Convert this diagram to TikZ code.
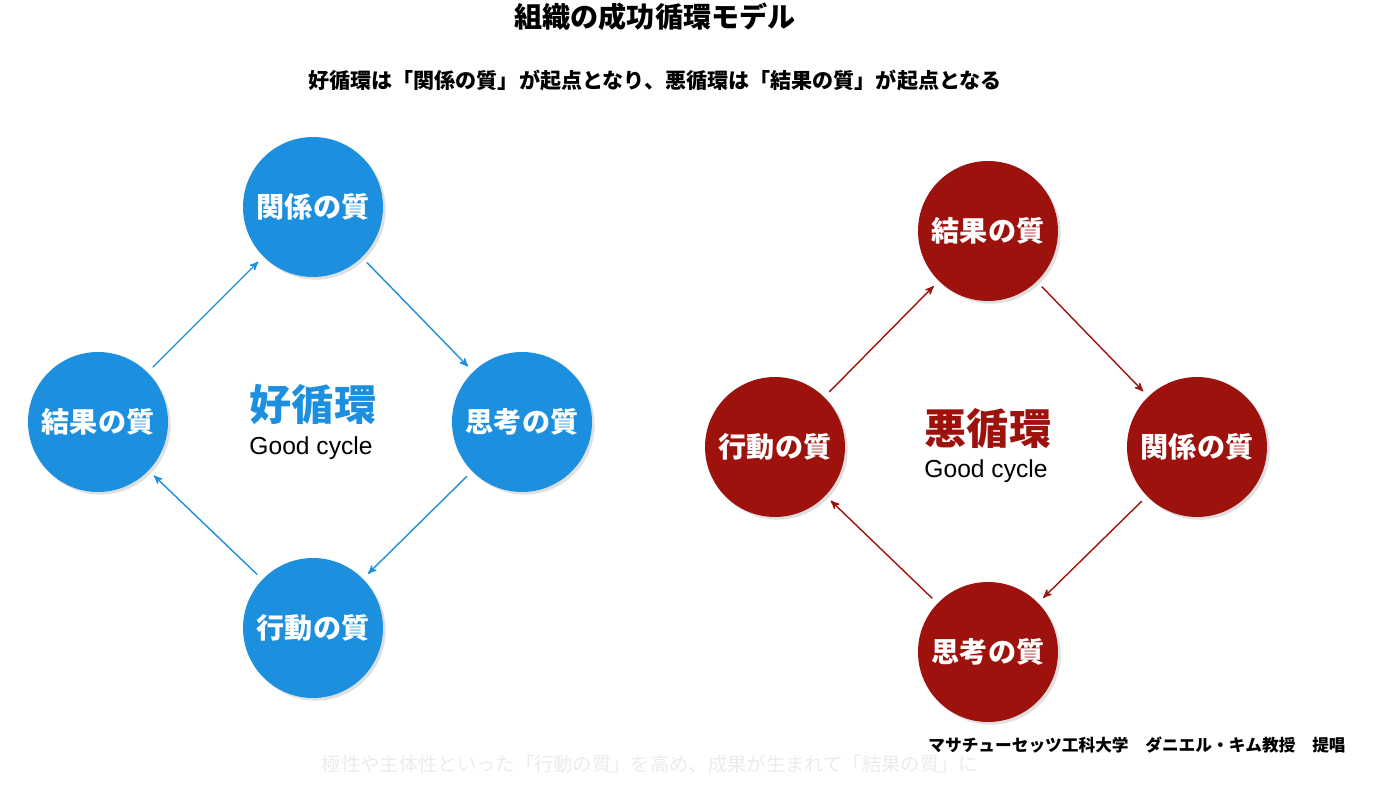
\documentclass[tikz,border=0pt]{standalone}
\usepackage{fontspec}
\setmainfont{Noto Sans CJK JP}
\newfontfamily\latin{Liberation Sans}
\usetikzlibrary{arrows,shadows}
\definecolor{goodblue}{RGB}{28,143,222}
\definecolor{badred}{RGB}{158,18,14}
\tikzset{
	%Define standard arrow tip
	>=stealth',
	% Define style for circles
	kreis/.style={
		circle,
		minimum size=2.8cm,
		inner sep=0pt,
		text=white,
		font=\bfseries\fontsize{16}{16}\selectfont,
		drop shadow={opacity=0.25,shadow xshift=1.5pt,shadow yshift=-1.5pt}},
	% Define arrow style
	pil/.style={
		->,
		thick,
		shorten <=4pt,
		shorten >=4pt,}
}
\begin{document}
\begin{tikzpicture}[x=0.02cm,y=-0.02cm]
	\useasboundingbox (0,0) rectangle (1397,790);
	
	\node[font=\bfseries\fontsize{16}{16}\selectfont] (title) at (655,17) {組織の成功循環モデル};
	\node[font=\bfseries\fontsize{12}{12}\selectfont] (sub) at (655,80) {好循環は「関係の質」が起点となり、悪循環は「結果の質」が起点となる};
	
	% good cycle
	\node[kreis, fill=goodblue] (gtop) at (313,207) {関係の質};
	\node[kreis, fill=goodblue] (gright) at (522,422) {思考の質};
	\node[kreis, fill=goodblue] (gbot) at (313,628) {行動の質};
	\node[kreis, fill=goodblue] (gleft) at (98,422) {結果の質};
	\node[text=goodblue, font=\bfseries\fontsize{24}{24}\selectfont] (gname) at (313,405) {好循環};
	\node[font=\latin\fontsize{14}{14}\selectfont] (gsub) at (311,448) {Good cycle};
	\draw[pil, goodblue] (gleft) -- (gtop);
	\draw[pil, goodblue] (gtop) -- (gright);
	\draw[pil, goodblue] (gright) -- (gbot);
	\draw[pil, goodblue] (gbot) -- (gleft);
	
	% bad cycle
	\node[kreis, fill=badred] (btop) at (988,231) {結果の質};
	\node[kreis, fill=badred] (bright) at (1197,447) {関係の質};
	\node[kreis, fill=badred] (bbot) at (988,652) {思考の質};
	\node[kreis, fill=badred] (bleft) at (775,447) {行動の質};
	\node[text=badred, font=\bfseries\fontsize{24}{24}\selectfont] (bname) at (988,428) {悪循環};
	\node[font=\latin\fontsize{14}{14}\selectfont] (bsub) at (986,471) {Good cycle};
	\draw[pil, badred] (bleft) -- (btop);
	\draw[pil, badred] (btop) -- (bright);
	\draw[pil, badred] (bright) -- (bbot);
	\draw[pil, badred] (bbot) -- (bleft);
	
	\node[font=\bfseries\fontsize{9.5}{9.5}\selectfont] (credit) at (1137,745) {マサチューセッツ工科大学\hspace{1em}ダニエル・キム教授\hspace{1em}提唱};
	\node[text=black!8, font=\fontsize{11}{11}\selectfont] (faint) at (650,764) {極性や主体性といった「行動の質」を高め、成果が生まれて「結果の質」に};
\end{tikzpicture}
\end{document}
